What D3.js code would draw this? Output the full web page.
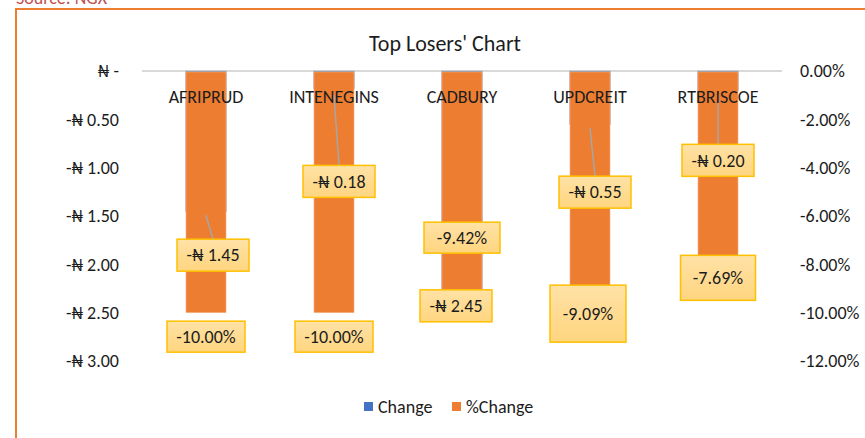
<!DOCTYPE html>
<html>
<head>
<meta charset="utf-8">
<script src="https://cdn.jsdelivr.net/npm/d3@7"></script>
<style>
  body { margin: 0; background: #fff; }
  svg text { font-family: Calibri, Carlito, Lato, "Noto Sans", sans-serif; fill: #1c1c1c; }
</style>
</head>
<body>
<div id="chart"></div>
<script>
// --------------------------------------
//  Data
// --------------------------------------

const tickers = ["AFRIPRUD", "INTENEGINS", "CADBURY", "UPDCREIT", "RTBRISCOE"];
const change = [-1.45, -0.18, -2.45, -0.55, -0.20];
const pctChange = [-0.10, -0.10, -0.0942, -0.0909, -0.0769];
const leftTicks = [0, -0.5, -1, -1.5, -2, -2.5, -3];
const rightTicks = [0, -0.02, -0.04, -0.06, -0.08, -0.10, -0.12];
const legendItems = ["Change", "%Change"];

// hand-placed label boxes (offsets from the bar end, in px)
const changeLabelPos = [
  {dx: 7, dy: 44, w: 72, h: 32, leader: true},
  {dx: 5, dy: 93, w: 72, h: 32, leader: true},
  {dx: -6, dy: -2, w: 72, h: 32, leader: false},
  {dx: 5, dy: 68, w: 72, h: 32, leader: true},
  {dx: 0, dy: 70, w: 72, h: 32, leader: true}
];
const pctLabelPos = [
  {dx: 0, dy: 24, w: 78, h: 31},
  {dx: 0, dy: 24, w: 78, h: 31},
  {dx: 0, dy: -61, w: 76, h: 31},
  {dx: -2, dy: 23, w: 76, h: 57},
  {dx: 0, dy: 21, w: 75, h: 45}
];

const rows = tickers.map((t, i) => ({ticker: t, change: change[i], pct: pctChange[i], i: i}));

// --------------------------------------
//  Canvas
// --------------------------------------

const width = 865;
const height = 438;
const plot = {top: 71, bottom: 361, left: 142, right: 782};
const fs = 18;

const svg = d3.select("#chart")
  .append("svg")
    .attr("width", width)
    .attr("height", height);

const defs = svg.append("defs");
const grad = defs.append("linearGradient")
    .attr("id", "boxFill")
    .attr("x1", 0).attr("y1", 0).attr("x2", 0).attr("y2", 1);
grad.append("stop").attr("offset", "0%").attr("stop-color", "#FFE2A6");
grad.append("stop").attr("offset", "100%").attr("stop-color", "#FFD57F");

// chart border + source note
svg.append("text")
    .attr("x", 16)
    .attr("y", 4)
    .attr("font-size", 18)
    .style("fill", "#C0504D")
    .text("Source: NGX");

svg.append("path")
    .attr("d", `M16,${height} V9 H${width}`)
    .attr("fill", "none")
    .attr("stroke", "#ED7D31")
    .attr("stroke-width", 2);

svg.append("text")
    .attr("x", 445)
    .attr("y", 51)
    .attr("text-anchor", "middle")
    .attr("font-size", 22)
    .text("Top Losers' Chart");

// --------------------------------------
//  Scales
// --------------------------------------

const x = d3.scaleBand()
    .domain(tickers)
    .range([plot.left, plot.right])
    .paddingInner(0.6875)
    .paddingOuter(0.34375);

const yL = d3.scaleLinear()
    .domain([0, -3])
    .range([plot.top, plot.bottom]);

const yR = d3.scaleLinear()
    .domain([0, -0.12])
    .range([plot.top, plot.bottom]);

const fmtNaira = v => v === 0 ? "\u20A6 -" : "-\u20A6 " + Math.abs(v).toFixed(2);
const fmtPct = v => (v < 0 ? "-" : "") + (Math.abs(v) * 100).toFixed(2) + "%";

// --------------------------------------
//  Axes
// --------------------------------------

const leftAxis = svg.append("g")
    .attr("transform", "translate(121,0)")
    .call(d3.axisLeft(yL).tickValues(leftTicks).tickFormat(fmtNaira).tickSize(0).tickPadding(2));
leftAxis.select(".domain").remove();
leftAxis.selectAll("text").attr("font-size", fs).style("font-family", null);

const rightAxis = svg.append("g")
    .attr("transform", "translate(798,0)")
    .call(d3.axisRight(yR).tickValues(rightTicks).tickFormat(fmtPct).tickSize(0).tickPadding(2));
rightAxis.select(".domain").remove();
rightAxis.selectAll("text").attr("font-size", fs).style("font-family", null);

// zero line
svg.append("line")
    .attr("x1", plot.left)
    .attr("x2", plot.right)
    .attr("y1", yL(0))
    .attr("y2", yL(0))
    .attr("stroke", "#D9D9D9")
    .attr("stroke-width", 2);

// --------------------------------------
//  Bars
// --------------------------------------

// Change (primary axis) sits behind %Change
svg.append("g")
  .selectAll("rect")
  .data(rows)
  .join("rect")
    .attr("x", d => x(d.ticker) - 0.5)
    .attr("y", yL(0))
    .attr("width", x.bandwidth() + 1)
    .attr("height", d => yL(d.change) - yL(0))
    .attr("fill", "#4472C4")
    .attr("stroke", "#BFBFBF")
    .attr("stroke-width", 1);

svg.append("g")
  .selectAll("rect")
  .data(rows)
  .join("rect")
    .attr("x", d => x(d.ticker))
    .attr("y", yR(0) + 1)
    .attr("width", x.bandwidth())
    .attr("height", d => yR(d.pct) - yR(0) - 1)
    .attr("fill", "#ED7D31")
    .attr("stroke", "#F4B183")
    .attr("stroke-width", 0.6);

const cx = d => x(d.ticker) + x.bandwidth() / 2;

// leader lines
svg.append("g")
  .selectAll("line")
  .data(rows.filter(d => changeLabelPos[d.i].leader))
  .join("line")
    .attr("x1", d => cx(d))
    .attr("y1", d => Math.max(yL(d.change) + 4, yL(0) + 24))
    .attr("x2", d => cx(d) + changeLabelPos[d.i].dx)
    .attr("y2", d => yL(d.change) + changeLabelPos[d.i].dy - changeLabelPos[d.i].h / 2)
    .attr("stroke", "#A6A6A6")
    .attr("stroke-width", 1.5);

// category labels
svg.append("g")
  .selectAll("text")
  .data(tickers)
  .join("text")
    .attr("x", d => x(d) + x.bandwidth() / 2)
    .attr("y", yL(0) + 32)
    .attr("text-anchor", "middle")
    .attr("font-size", fs)
    .text(d => d);

// --------------------------------------
//  Data labels
// --------------------------------------

function drawLabels(cls, getY, pos, fmt, val) {
  const g = svg.append("g")
    .selectAll("g")
    .data(rows)
    .join("g")
      .attr("class", cls)
      .attr("transform", d => `translate(${cx(d) + pos[d.i].dx}, ${getY(d) + pos[d.i].dy})`);

  g.append("rect")
      .attr("x", d => -pos[d.i].w / 2)
      .attr("y", d => -pos[d.i].h / 2)
      .attr("width", d => pos[d.i].w)
      .attr("height", d => pos[d.i].h)
      .attr("fill", "url(#boxFill)")
      .attr("stroke", "#FFC000")
      .attr("stroke-width", 1.5);

  g.append("text")
      .attr("text-anchor", "middle")
      .attr("dy", "0.35em")
      .attr("font-size", fs)
      .text(d => fmt(val(d)));
}

drawLabels("pct-label", d => yR(d.pct), pctLabelPos, fmtPct, d => d.pct);
drawLabels("change-label", d => yL(d.change), changeLabelPos, fmtNaira, d => d.change);

// --------------------------------------
//  Legend
// --------------------------------------

const legendColor = d3.scaleOrdinal().domain(legendItems).range(["#4472C4", "#ED7D31"]);
const legendX = [364, 452];

const legend = svg.append("g")
  .selectAll("g")
  .data(legendItems)
  .join("g")
    .attr("transform", (d, i) => `translate(${legendX[i]}, 407)`);

legend.append("rect")
    .attr("x", 0)
    .attr("y", -5)
    .attr("width", 9)
    .attr("height", 9)
    .attr("fill", d => legendColor(d));

legend.append("text")
    .attr("x", 14)
    .attr("dy", "0.35em")
    .attr("font-size", fs)
    .text(d => d);
</script>
</body>
</html>
